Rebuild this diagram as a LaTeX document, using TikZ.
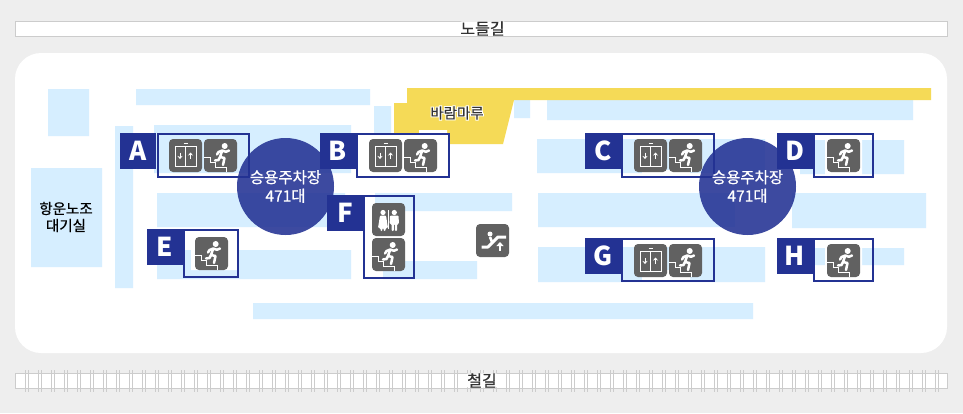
\documentclass[tikz,border=0pt]{standalone}
\usepackage{fontspec}
\setmainfont{Noto Sans CJK KR}
\newfontfamily\halofont[FakeBold=14]{Noto Sans CJK KR}
\newfontfamily\labelfont[FakeBold=.7]{Noto Sans CJK KR}
\usetikzlibrary{arrows.meta}
\definecolor{pagegray}{HTML}{EEEEEE}
\definecolor{railgray}{HTML}{CCCCCC}
\definecolor{zoneblue}{HTML}{D6EEFF}
\definecolor{deckyellow}{HTML}{F5DA57}
\definecolor{flagblue}{HTML}{233293}
\definecolor{icongray}{HTML}{616161}
\definecolor{labelgray}{HTML}{333333}
\newcommand{\glowtext}[1]{\makebox[0pt][l]{\color{white}\halofont #1}{\labelfont #1}}
\tikzset{x=1pt,y=-1pt,
zone/.style={fill=zoneblue,draw=none},
patch/.style={fill=white,draw=none},
flagbox/.style={fill=flagblue,text=white,minimum size=36.5pt,inner sep=0pt,font=\bfseries\fontsize{26}{26}\selectfont},
corebox/.style={draw=flagblue,line width=2pt},
lot/.style={circle,fill=flagblue,fill opacity=.88,text opacity=1,text=white,minimum size=97pt,inner sep=0pt,align=center,font=\labelfont\fontsize{15.5}{18.5}\selectfont},
placetext/.style={text=labelgray,inner sep=0pt,align=center,font=\labelfont\fontsize{14.5}{17}\selectfont},
linetext/.style={placetext,fill=white,rounded corners=3pt,inner xsep=1.5pt,inner ysep=0pt,font=\labelfont\fontsize{16}{16}\selectfont},
stairicon/.pic={
	\fill[icongray,rounded corners=4pt] (0,0) rectangle (33,33);
	\draw[white,line width=1pt] (0,18) -- (6,18) -- (6,23) -- (11,23) -- (11,28) -- (22,28) -- (22,33);
	\fill[white] (20.7,7) circle (3);
	\draw[white,line width=2.5pt,line cap=round,line join=round]
	(18.3,11.5) -- (16,18)
	(18.3,11.5) -- (22,12.8) -- (25,11.5)
	(18.3,11.5) -- (14.5,13) -- (13,15.5)
	(16,18) -- (20.5,19) -- (19,26)
	(16,18) -- (14.5,21) -- (11,21.5);
},
lifticon/.pic={
	\fill[icongray,rounded corners=4pt] (0,0) rectangle (33,33);
	\draw[white,line width=1pt] (6,7) rectangle (27,27) (16.5,7) -- (16.5,27) (14.5,4.5) -- (18.5,4.5);
	\draw[white,line width=1pt,-{Stealth[length=3pt,width=5pt]}] (11,13.5) -- (11,20);
	\draw[white,line width=1pt,-{Stealth[length=3pt,width=5pt]}] (21.5,20) -- (21.5,13.5);
},
toileticon/.pic={
	\fill[icongray,rounded corners=4pt] (0,0) rectangle (33,33);
	\fill[white] (11,9.5) circle (2.6) (22.3,9.5) circle (2.6);
	\fill[white,rounded corners=1pt] (8,12.5) -- (14,12.5) -- (16,25) -- (13.5,25) -- (13.5,28) -- (11.6,28) -- (11.6,25) -- (10.4,25) -- (10.4,28) -- (8.5,28) -- (8.5,25) -- (6,25) -- cycle;
	\fill[white,rounded corners=1pt] (18,12.5) -- (26.5,12.5) -- (27,21) -- (25,21) -- (25,28) -- (22.8,28) -- (22.8,21) -- (21.8,21) -- (21.8,28) -- (19.6,28) -- (19.6,21) -- (17.6,21) -- cycle;
	\draw[white,line width=.7pt] (16.5,7) -- (16.5,26);
},
escalatoricon/.pic={
	\fill[icongray,rounded corners=4pt] (0,0) rectangle (33,33);
	\fill[white] (14,10) circle (2.5);
	\draw[white,line width=3pt,line join=round] (5.5,23) -- (12,23) -- (22,13) -- (30,13);
	\draw[white,line width=2.6pt] (14,13) -- (16,18);
	\draw[white,line width=2pt,-{Stealth[length=4pt,width=7pt,inset=0pt]}] (24,27) -- (24,18);
}}

\begin{document}
\begin{tikzpicture}
	\useasboundingbox (0,0) rectangle (963,413);
	\fill[pagegray] (0,0) rectangle (963,413);
	\fill[white,rounded corners=26pt] (15,53) rectangle (947,353);

	% road and railway strips
	\draw[railgray,fill=white] (15.5,21.5) rectangle (947,36.5);
	\draw[railgray,fill=white] (15.5,373.5) rectangle (947,388.5);
	\foreach \tick in {0,...,70}
		\draw[railgray,line width=.9pt] ({25.5+13*\tick},370) -- ++(0,22) ({28+13*\tick},370) -- ++(0,22);

	% zones
	\fill[zone]
	(48,89) rectangle (89,136)
	(136,89) rectangle (370,105)
	(115,126) rectangle (133,288)
	(31,168) rectangle (102,267)
	(154,125) rectangle (351,173)
	(157,193) rectangle (345,227)
	(157,250) rectangle (351,279)
	(374,106) rectangle (391,134)
	(375,193) rectangle (512,211)
	(383,261) rectangle (477,279)
	(514,100) rectangle (530,118)
	(547,100) rectangle (913,120)
	(537,139) rectangle (765,173)
	(800,140) rectangle (904,174)
	(538,193) rectangle (735,227)
	(792,193) rectangle (926,228)
	(538,247) rectangle (765,282)
	(815,248) rectangle (904,265)
	(253,303) rectangle (753,319)
	;

	\fill[deckyellow] (407,88) -- (931,88) -- (931,100) -- (514,100) -- (503,144) -- (394,144) -- (394,103) -- (407,103) -- cycle;

	\fill[patch]
	(419,130) rectangle (447,134)
	(357,134) rectangle (449,177)
	(191,232) rectangle (238,270)
	(642,170) rectangle (690,177)
	(642,270) rectangle (690,281)
	(825,139) rectangle (862,177)
	(825,244) rectangle (862,281)
	;

	% core outlines
	\draw[corebox] (157.5,134) rectangle (249,177);
	\draw[corebox] (357,134) rectangle (448.5,176.5);
	\draw[corebox] (364,196) rectangle (414,278);
	\draw[corebox] (184,230) rectangle (238,276.5);
	\draw[corebox] (622,134) rectangle (714,177);
	\draw[corebox] (814,134) rectangle (873,177);
	\draw[corebox] (622,239) rectangle (714,281);
	\draw[corebox] (814,239) rectangle (873,281);

	\pic at (169,139) {lifticon};
	\pic at (204,139) {stairicon};
	\pic at (369,139) {lifticon};
	\pic at (404,139) {stairicon};
	\pic at (372,203) {toileticon};
	\pic at (372,238) {stairicon};
	\pic at (195,237) {stairicon};
	\pic at (476,224) {escalatoricon};
	\pic at (634,139) {lifticon};
	\pic at (669,139) {stairicon};
	\pic at (827,139) {stairicon};
	\pic at (634,244) {lifticon};
	\pic at (669,244) {stairicon};
	\pic at (827,244) {stairicon};

	\node[flagbox] (flagA) at (138,151) {A};
	\node[flagbox] (flagB) at (338,151) {B};
	\node[flagbox] (flagC) at (603,151) {C};
	\node[flagbox] (flagD) at (795,151) {D};
	\node[flagbox] (flagE) at (165,247) {E};
	\node[flagbox] (flagF) at (345,213) {F};
	\node[flagbox] (flagG) at (603,256) {G};
	\node[flagbox] (flagH) at (795,256) {H};

	\node[lot] (lotwest) at (285.5,186.5) {승용주차장\\471대};
	\node[lot] (loteast) at (747.5,186.5) {승용주차장\\471대};

	\node[linetext] (road) at (482.5,28.5) {노들길};
	\node[linetext] (rail) at (482,380.5) {철길};
	\node[placetext] (deck) at (457,113) {\glowtext{바람마루}};
	\node[placetext,text=black] (union) at (66,217) {항운노조\\대기실};
\end{tikzpicture}
\end{document}
